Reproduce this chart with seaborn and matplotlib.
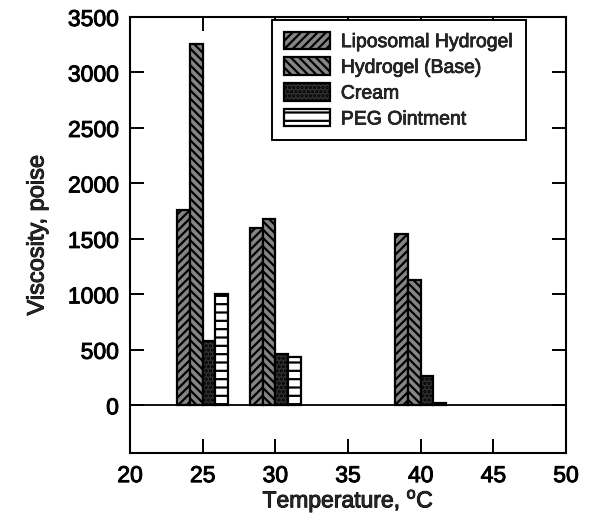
import matplotlib
matplotlib.use("Agg")
import matplotlib.pyplot as plt
import matplotlib.patheffects as pe
import seaborn as sns
import pandas as pd

temperatures = [25, 30, 40]
formulations = ["Liposomal Hydrogel", "Hydrogel (Base)", "Cream", "PEG Ointment"]
liposomal_hydrogel = [1760, 1600, 1540]
hydrogel_base = [3260, 1680, 1130]
cream = [580, 460, 265]
peg_ointment = [1000, 435, 20]

x_ticks = [20, 25, 30, 35, 40, 45, 50]
y_ticks = [0, 500, 1000, 1500, 2000, 2500, 3000, 3500]

sns.set_theme(style="ticks")
plt.rcParams["font.family"] = ["Liberation Sans", "DejaVu Sans"]
plt.rcParams["mathtext.fontset"] = "custom"
plt.rcParams["mathtext.rm"] = "Liberation Sans"
plt.rcParams["hatch.linewidth"] = 1.6

rows = []
for name, vals in zip(formulations, [liposomal_hydrogel, hydrogel_base, cream, peg_ointment]):
    for t, v in zip(temperatures, vals):
        rows.append({"Temperature": t, "Viscosity": v, "Formulation": name})
df = pd.DataFrame(rows)

fig = plt.figure(figsize=(5.9, 5.14), dpi=100)
ax = fig.add_axes([130 / 590, 1 - 453 / 514, 436 / 590, 436 / 514])

sns.barplot(data=df, x="Temperature", y="Viscosity", hue="Formulation",
            hue_order=formulations, native_scale=True, width=0.7, gap=0,
            palette=["#858585", "#858585", "#303030", "white"],
            edgecolor="black", linewidth=1.6, saturation=1, errorbar=None,
            ax=ax)

hatches = ["////", "\\\\\\\\", "....", "--"]
for cont, h in zip(ax.containers, hatches):
    for bar in cont:
        bar.set_hatch(h)
        bar.set_edgecolor("black")

ax.axhline(0, color="black", lw=1.3, zorder=0.5)
ax.set_xlim(20, 50)
ax.set_ylim(-430, 3500)
ax.set_xticks(x_ticks)
ax.set_yticks(y_ticks)
ax.tick_params(direction="in", length=10, width=1.4, top=True, right=True,
               labelsize=16.5, pad=8, colors="black")
for s in ax.spines.values():
    s.set_linewidth(1.5)
    s.set_color("black")
ax.set_xlabel("Temperature, $^{\\mathrm{o}}$C", fontsize=16.5, labelpad=0)
ax.set_ylabel("Viscosity, poise", fontsize=17, labelpad=14)

stroke = [pe.withStroke(linewidth=0.7, foreground="black")]
for t in ax.get_xticklabels() + ax.get_yticklabels() + [ax.xaxis.label, ax.yaxis.label]:
    t.set_path_effects(stroke)

handles, labels = ax.get_legend_handles_labels()
for hnd, h in zip(handles, hatches):
    hnd.set_hatch(h)
    hnd.set_edgecolor("black")
leg = ax.legend(handles, labels, loc="upper left", bbox_to_anchor=(142 / 436, 0.993),
                frameon=True, fancybox=False, edgecolor="black", fontsize=14,
                handlelength=2.37, handleheight=1.0, labelspacing=0.33,
                borderpad=0.6, handletextpad=0.57, borderaxespad=0)
leg.get_frame().set_linewidth(1.4)
leg.get_frame().set_alpha(1)
for t in leg.get_texts():
    t.set_path_effects([pe.withStroke(linewidth=0.5, foreground="black")])

fig.savefig("out.png", dpi=100)
